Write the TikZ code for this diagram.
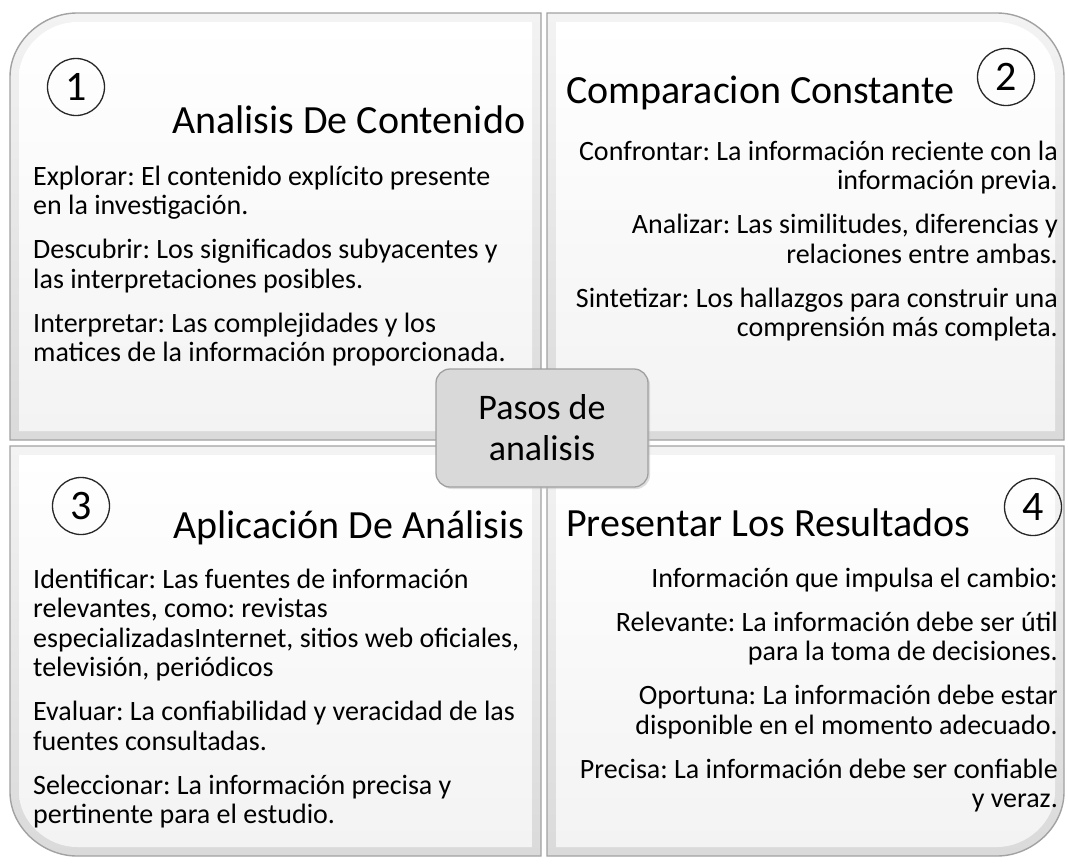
\documentclass[tikz,border=0pt]{standalone}
\usepackage{fontspec}
\setmainfont{Carlito}
\usetikzlibrary{shadows}
\definecolor{edgegray}{HTML}{A2A2A2}
\definecolor{bandtop}{HTML}{F3F3F3}
\definecolor{bandbot}{HTML}{DADADA}
\definecolor{innerbot}{HTML}{F3F3F3}
\definecolor{boxgray}{HTML}{D9D9D9}
\definecolor{boxedge}{HTML}{A0A0A0}
\newcommand\bodyfont{\fontsize{28}{29.5}\selectfont\lineskiplimit-60pt\relax}
\tikzset{
  outerpanel/.style={top color=bandtop, bottom color=bandbot, draw=edgegray, line width=1.4pt},
  innerpanel/.style={top color=white, bottom color=innerbot, draw=none},
  numcircle/.style={circle, draw=black!85, line width=1.3pt, minimum size=57pt, inner sep=0pt, font=\fontsize{42}{42}\selectfont},
  titletext/.style={inner sep=0pt, font=\fontsize{40}{44}\selectfont},
  bodyleft/.style={inner sep=0pt, align=left, anchor=north west, font=\bodyfont},
  bodyright/.style={inner sep=0pt, align=right, anchor=north east, font=\bodyfont},
  centerbox/.style={fill=boxgray, draw=boxedge, line width=1.3pt, rounded corners=14pt, minimum width=212pt, minimum height=118pt, align=center, font=\fontsize{36}{41}\selectfont, drop shadow={shadow xshift=2pt, shadow yshift=-2pt, fill=black!25}}
}
\begin{document}
\frenchspacing
\begin{tikzpicture}[x=1pt,y=-1pt]
\useasboundingbox (0,0) rectangle (1068,865);
\fill[white] (0,0) rectangle (1068,865);
% panel 1 (top-left)
\path[outerpanel] (10,440) -- (10,77) .. controls (10,42) and (42,13) .. (77,13) -- (541,13) -- (541,440) -- cycle;
\path[innerpanel] (19,431) -- (19,77) .. controls (19,47) and (47,22) .. (77,22) -- (532,22) -- (532,431) -- cycle;
% panel 2 (top-right)
\path[outerpanel] (547,13) -- (997,13) .. controls (1032,13) and (1064,42) .. (1064,77) -- (1064,440) -- (547,440) -- cycle;
\path[innerpanel] (556,22) -- (997,22) .. controls (1027,22) and (1055,47) .. (1055,77) -- (1055,431) -- (556,431) -- cycle;
% panel 3 (bottom-left)
\path[outerpanel] (10,446) -- (541,446) -- (541,856) -- (77,856) .. controls (42,856) and (10,827) .. (10,792) -- cycle;
\path[innerpanel] (19,455) -- (532,455) -- (532,847) -- (77,847) .. controls (47,847) and (19,822) .. (19,792) -- cycle;
% panel 4 (bottom-right)
\path[outerpanel] (547,446) -- (1064,446) -- (1064,792) .. controls (1064,827) and (1032,856) .. (997,856) -- (547,856) -- cycle;
\path[innerpanel] (556,455) -- (1055,455) -- (1055,792) .. controls (1055,822) and (1027,847) .. (997,847) -- (556,847) -- cycle;

% panel 1 content
\node[numcircle] (c1) at (76,87) {1};
\node[titletext, anchor=base west] (t1) at (172,133) {Analisis De Contenido};
\node[bodyleft] (b1) at (33,164.4) {\strut Explorar: El contenido explícito presente\\ en la investigación.\\[14.5pt]
Descubrir: Los significados subyacentes y\\ las interpretaciones posibles.\\[14.5pt]
Interpretar: Las complejidades y los\\ matices de la información proporcionada.};

% panel 2 content
\node[numcircle] (c2) at (1006,77) {2};
\node[titletext, anchor=base west] (t2) at (566,103) {Comparacion Constante};
\node[bodyright] (b2) at (1058,139.4) {\strut Confrontar: La información reciente con la\\ información previa.\\[14.5pt]
Analizar: Las similitudes, diferencias y\\ relaciones entre ambas.\\[14.5pt]
Sintetizar: Los hallazgos para construir una\\ comprensión más completa.};

% panel 3 content
\node[numcircle] (c3) at (81,506) {3};
\node[titletext, anchor=base west] (t3) at (173,538) {Aplicación De Análisis};
\node[bodyleft] (b3) at (33,567.4) {\strut Identificar: Las fuentes de información\\ relevantes, como: revistas\\ especializadasInternet, sitios web oficiales,\\ televisión, periódicos\\[14.5pt]
Evaluar: La confiabilidad y veracidad de las\\ fuentes consultadas.\\[14.5pt]
Seleccionar: La información precisa y\\ pertinente para el estudio.};

% panel 4 content
\node[numcircle] (c4) at (1033,507) {4};
\node[titletext, anchor=base west] (t4) at (566,536) {Presentar Los Resultados};
\node[bodyright] (b4) at (1058,566.4) {\strut Información que impulsa el cambio:\\[14.5pt]
Relevante: La información debe ser útil\\ para la toma de decisiones.\\[14.5pt]
Oportuna: La información debe estar\\ disponible en el momento adecuado.\\[14.5pt]
Precisa: La información debe ser confiable\\ y veraz.};

% center box
\node[centerbox] (center) at (542,428) {Pasos de\\ analisis};
\end{tikzpicture}
\end{document}
